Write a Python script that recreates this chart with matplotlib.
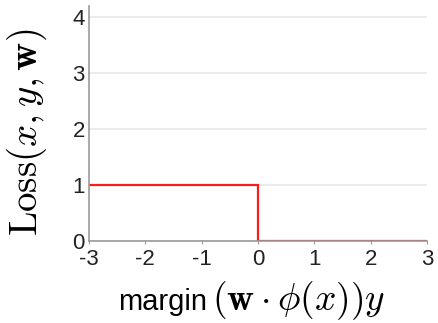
import matplotlib
matplotlib.use("Agg")
import matplotlib.pyplot as plt

# zero-one loss as a function of the margin
margin = [-3, 0, 0, 3]
loss = [1, 1, 0, 0]
x_ticks = [-3, -2, -1, 0, 1, 2, 3]
y_ticks = [0, 1, 2, 3, 4]

plt.rcParams['font.family'] = ['Liberation Sans', 'DejaVu Sans']
plt.rcParams['mathtext.fontset'] = 'cm'

W, H = 438, 323
fig = plt.figure(figsize=(W / 100, H / 100), dpi=100)
ax = fig.add_axes([89 / W, 1 - 241 / H, (427 - 89) / W, (241 - 6) / H])

ax.plot(margin, loss, color="#ff1a1a", lw=1.6, solid_joinstyle="miter")

ax.set_xlim(-3, 3)
ax.set_ylim(0, 4.2)
ax.set_xticks(x_ticks)
ax.set_yticks(y_ticks)
ax.set_xticklabels([str(t) for t in x_ticks])
ax.grid(axis="y", color="#e8e8e8", lw=1.2)
ax.set_axisbelow(True)

for s in ["top", "right"]:
    ax.spines[s].set_visible(False)
for s in ["left", "bottom"]:
    ax.spines[s].set_color("#999999")
    ax.spines[s].set_linewidth(1.2)
    ax.spines[s].set_zorder(3)

ax.tick_params(axis="x", length=2.5, color="#999999", labelsize=16, pad=3,
               labelcolor="#222222")
ax.tick_params(axis="y", length=0, labelsize=16, pad=3, labelcolor="#222222")

# axis titles
fig.text(27 / W, 1 - 132 / H, r"$\mathrm{Loss}(x,y,\mathbf{w})$", fontsize=28,
         rotation=90, ha="center", va="center")
fig.text(118 / W, 1 - 310 / H, "margin", fontsize=21, ha="left", va="baseline")
fig.text(212 / W, 1 - 310 / H, r"$(\mathbf{w}\cdot\phi(x))y$", fontsize=27,
         ha="left", va="baseline")

fig.savefig("out.png", dpi=100)
